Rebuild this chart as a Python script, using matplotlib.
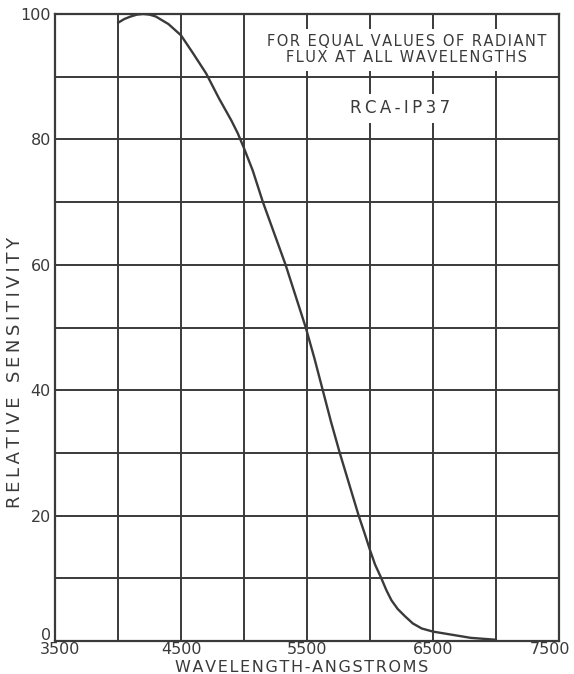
import matplotlib
matplotlib.use("Agg")
import matplotlib.pyplot as plt
from matplotlib.transforms import ScaledTranslation

wavelength = [4000, 4050, 4100, 4150, 4200, 4250, 4300, 4400, 4500, 4600, 4700,
              4800, 4900, 4950, 5000, 5070, 5150, 5240, 5330, 5410, 5490, 5560, 5625,
              5690, 5760, 5835, 5910, 5960, 6000, 6040, 6090, 6130, 6170, 6220,
              6280, 6340, 6410, 6500, 6650, 6800, 7000]
sensitivity = [98.6, 99.2, 99.6, 99.9, 100.0, 99.9, 99.6, 98.4, 96.6, 93.6, 90.5,
               86.6, 83.0, 81.0, 78.6, 75.0, 70.0, 65.0, 60.0, 55.0, 50.0, 45.0, 40.0,
               35.0, 30.0, 25.0, 20.0, 17.0, 14.5, 12.2, 10.0, 8.1, 6.5, 5.1,
               3.9, 2.8, 2.0, 1.5, 1.0, 0.5, 0.2]

x_ticks = [3500, 4500, 5500, 6500, 7500]
y_ticks = [0, 20, 40, 60, 80, 100]

ink = "#3a3a3a"
plt.rcParams['font.family'] = ['DejaVu Sans']

HAIR = "\u200a"
THIN = "\u2009"


def spaced(s, sep=HAIR):
    return sep.join(list(s))


fig = plt.figure(figsize=(5.74, 6.74), dpi=100)
ax = fig.add_axes([55/574, 33/674, 504/574, 627/674])

ax.set_xlim(3500, 7500)
ax.set_ylim(0, 100)

for xv in range(3500, 7501, 500):
    ax.axvline(xv, color=ink, lw=1.4, zorder=1)
for yv in range(0, 101, 10):
    ax.axhline(yv, color=ink, lw=1.4, zorder=1)

ax.plot(wavelength, sensitivity, color=ink, lw=1.7, zorder=3,
        solid_capstyle='round', solid_joinstyle='round')

for s in ax.spines.values():
    s.set_color(ink)
    s.set_linewidth(1.6)

ax.set_xticks(x_ticks)
ax.set_xticklabels([str(v) for v in x_ticks])
ax.set_yticks(y_ticks)
ax.set_yticklabels([str(v) for v in y_ticks])
ax.tick_params(length=0, labelsize=11.5, colors=ink)
ax.tick_params(axis='x', pad=1)
ax.tick_params(axis='y', pad=3)

# inward shift of end labels, as in the reference
xl = ax.get_xticklabels()
xl[0].set_transform(xl[0].get_transform() + ScaledTranslation(5/100, 0, fig.dpi_scale_trans))
xl[-1].set_transform(xl[-1].get_transform() + ScaledTranslation(-9/100, 0, fig.dpi_scale_trans))
yl = ax.get_yticklabels()
yl[0].set_transform(yl[0].get_transform() + ScaledTranslation(0, 7/100, fig.dpi_scale_trans))

ax.set_xlabel(spaced("WAVELENGTH-ANGSTROMS"), fontsize=11.5, color=ink)
ax.xaxis.set_label_coords(302/574, 6/674, transform=fig.transFigure)
ax.xaxis.label.set_va('center')
ax.set_ylabel(spaced("RELATIVE", THIN) + THIN * 4 + spaced("SENSITIVITY", THIN),
              fontsize=13, color=ink)
ax.yaxis.set_label_coords(15/574, (674-372)/674, transform=fig.transFigure)
ax.yaxis.label.set_va('center')

ax.text(6290, 94.3, spaced("FOR EQUAL VALUES OF RADIANT") + "\n" + spaced("FLUX AT ALL WAVELENGTHS"),
        ha='center', va='center', fontsize=10.5, color=ink, linespacing=1.1,
        bbox=dict(facecolor='white', edgecolor='none', pad=4), zorder=4)
ax.text(6240, 85.0, spaced("RCA-IP37", THIN), ha='center', va='center', fontsize=12, color=ink,
        bbox=dict(facecolor='white', edgecolor='none', pad=4), zorder=4)

fig.savefig("out.png", dpi=100, facecolor='white')
